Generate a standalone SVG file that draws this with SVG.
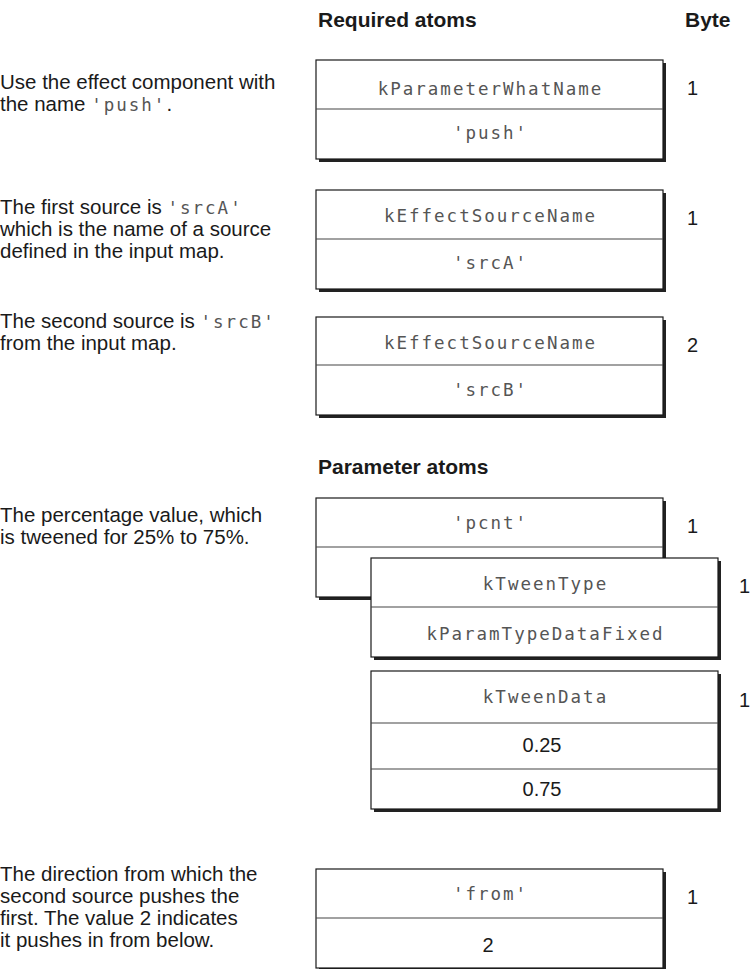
<svg xmlns="http://www.w3.org/2000/svg" width="755" height="969" viewBox="0 0 755 969">
<style>
.t{font-family:"Liberation Sans",Arial,sans-serif;font-size:20.5px;fill:#1a1a1a}
.m{font-family:"DejaVu Sans Mono",monospace;font-size:17.5px;fill:#555;letter-spacing:2px}
.h{font-family:"Liberation Sans",Arial,sans-serif;font-size:21px;font-weight:bold;fill:#1a1a1a}
.n{font-family:"Liberation Sans",Arial,sans-serif;font-size:20px;fill:#1a1a1a}
.sh{fill:#222}
.bx{fill:#fff;stroke:#1a1a1a;stroke-width:1.2}
.dv{stroke:#444;stroke-width:1.2}
</style>
<text class="h" x="318" y="27">Required atoms</text>
<text class="h" x="685" y="27">Byte</text>
<text class="h" x="318" y="474">Parameter atoms</text>

<g id="desc1"><text class="t" x="0" y="89">Use the effect component with</text><text class="t" x="0" y="111">the name <tspan class="m">'push'</tspan>.</text></g>
<g id="desc2"><text class="t" x="0" y="214">The first source is <tspan class="m">'srcA'</tspan></text><text class="t" x="0" y="236">which is the name of a source</text><text class="t" x="0" y="258">defined in the input map.</text></g>
<g id="desc3"><text class="t" x="0" y="328">The second source is <tspan class="m">'srcB'</tspan></text><text class="t" x="0" y="350">from the input map.</text></g>
<g id="desc4"><text class="t" x="0" y="522">The percentage value, which</text><text class="t" x="0" y="544">is tweened for 25% to 75%.</text></g>
<g id="desc5"><text class="t" x="0" y="881">The direction from which the</text><text class="t" x="0" y="903">second source pushes the</text><text class="t" x="0" y="925"> first. The value 2 indicates</text><text class="t" x="0" y="947">it pushes in from below.</text></g>

<g id="box1">
<rect class="sh" x="319" y="63" width="347" height="99"/>
<rect class="bx" x="316" y="60" width="347" height="99"/>
<line class="dv" x1="316" y1="109" x2="663" y2="109"/>
<text class="m" x="490.5" y="95" text-anchor="middle">kParameterWhatName</text>
<text class="m" x="490.5" y="139" text-anchor="middle">'push'</text>
<text class="n" x="687" y="95">1</text>
</g>
<g id="box2">
<rect class="sh" x="319" y="193" width="347" height="99"/>
<rect class="bx" x="316" y="190" width="347" height="99"/>
<line class="dv" x1="316" y1="239" x2="663" y2="239"/>
<text class="m" x="490.5" y="222" text-anchor="middle">kEffectSourceName</text>
<text class="m" x="490.5" y="269" text-anchor="middle">'srcA'</text>
<text class="n" x="687" y="225">1</text>
</g>
<g id="box3">
<rect class="sh" x="319" y="320" width="347" height="98"/>
<rect class="bx" x="316" y="317" width="347" height="98"/>
<line class="dv" x1="316" y1="365" x2="663" y2="365"/>
<text class="m" x="490.5" y="349" text-anchor="middle">kEffectSourceName</text>
<text class="m" x="490.5" y="396" text-anchor="middle">'srcB'</text>
<text class="n" x="687" y="352">2</text>
</g>
<g id="pcnt">
<rect class="sh" x="319" y="501" width="347" height="99"/>
<rect class="bx" x="316" y="498" width="347" height="99"/>
<line class="dv" x1="316" y1="547" x2="663" y2="547"/>
<text class="m" x="490.5" y="529" text-anchor="middle">'pcnt'</text>
<text class="n" x="687" y="533">1</text>
</g>
<g id="tweenType">
<rect class="sh" x="374" y="561" width="347" height="99"/>
<rect class="bx" x="371" y="558" width="347" height="99"/>
<line class="dv" x1="371" y1="607" x2="718" y2="607"/>
<text class="m" x="545.5" y="590" text-anchor="middle">kTweenType</text>
<text class="m" x="545.5" y="640" text-anchor="middle">kParamTypeDataFixed</text>
<text class="n" x="739" y="593">1</text>
</g>
<g id="tweenData">
<rect class="sh" x="374" y="674" width="347" height="138"/>
<rect class="bx" x="371" y="671" width="347" height="138"/>
<line class="dv" x1="371" y1="723" x2="718" y2="723"/>
<line class="dv" x1="371" y1="769" x2="718" y2="769"/>
<text class="m" x="545.5" y="703" text-anchor="middle">kTweenData</text>
<text class="n" x="542" y="752" text-anchor="middle">0.25</text>
<text class="n" x="542" y="796" text-anchor="middle">0.75</text>
<text class="n" x="739" y="707">1</text>
</g>
<g id="from">
<rect class="sh" x="319" y="872" width="347" height="99"/>
<rect class="bx" x="316" y="869" width="347" height="99"/>
<line class="dv" x1="316" y1="918" x2="663" y2="918"/>
<text class="m" x="490.5" y="900" text-anchor="middle">'from'</text>
<text class="n" x="488" y="952" text-anchor="middle">2</text>
<text class="n" x="687" y="904">1</text>
</g>
<g id="connectors"/>
</svg>
